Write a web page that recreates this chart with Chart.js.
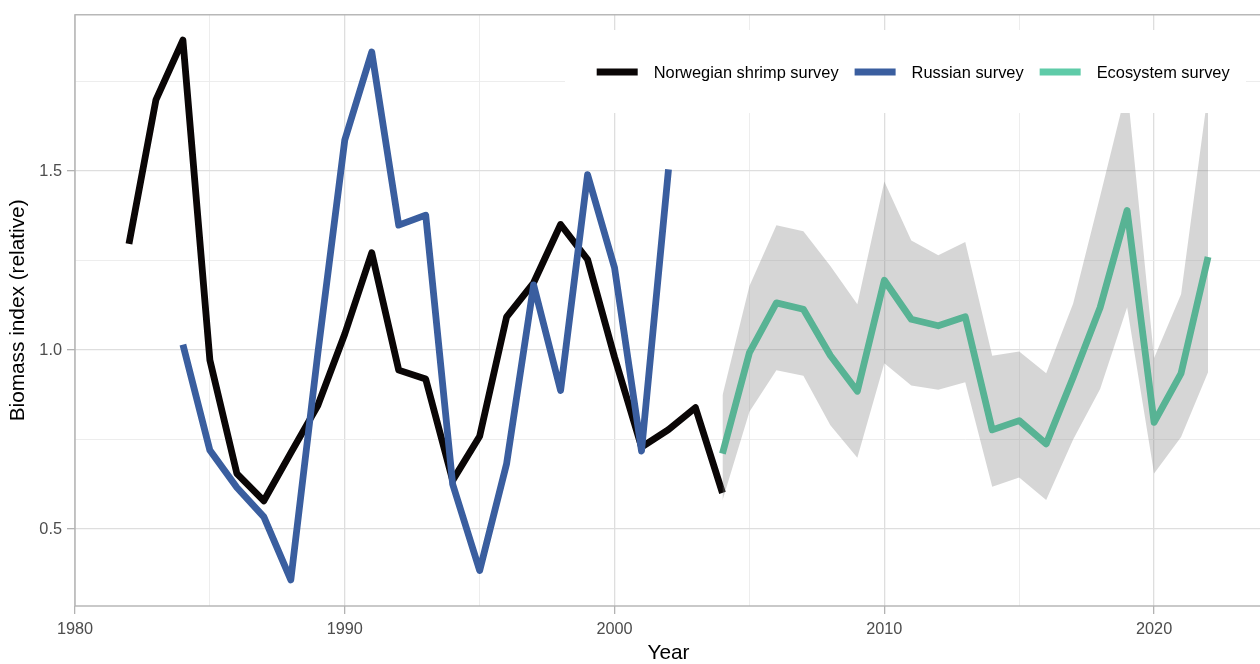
<!DOCTYPE html>
<html>
<head>
<meta charset="utf-8">
<script src="https://cdn.jsdelivr.net/npm/chart.js@4/dist/chart.umd.min.js"></script>
<style>
html,body{margin:0;padding:0;overflow:hidden;background:#ffffff;}
canvas{display:block;}
</style>
</head>
<body>
<canvas id="c" width="1262" height="664"></canvas>
<script>
// ---------- data ----------
const norwegianYears = [1982,1983,1984,1985,1986,1987,1988,1989,1990,1991,1992,1993,1994,1995,1996,1997,1998,1999,2000,2001,2002,2003,2004];
const norwegianValues = [1.297,1.699,1.866,0.972,0.655,0.579,0.713,0.845,1.045,1.272,0.944,0.919,0.636,0.759,1.093,1.188,1.351,1.253,0.980,0.729,0.778,0.839,0.601];

const russianYears = [1984,1985,1986,1987,1988,1989,1990,1991,1992,1993,1994,1995,1996,1997,1998,1999,2000,2001,2002];
const russianValues = [1.015,0.720,0.616,0.534,0.358,0.990,1.587,1.833,1.349,1.377,0.625,0.384,0.683,1.182,0.887,1.490,1.230,0.718,1.505];

const ecoYears = [2004,2005,2006,2007,2008,2009,2010,2011,2012,2013,2014,2015,2016,2017,2018,2019,2020,2021,2022];
const ecoValues = [0.711,0.993,1.132,1.114,0.985,0.885,1.195,1.086,1.068,1.093,0.777,0.803,0.738,0.924,1.119,1.390,0.798,0.935,1.260];
const ecoLower  = [0.580,0.828,0.944,0.928,0.790,0.699,0.963,0.901,0.889,0.910,0.618,0.644,0.581,0.750,0.891,1.120,0.655,0.757,0.938];
const ecoUpper  = [0.873,1.179,1.349,1.332,1.235,1.128,1.471,1.306,1.265,1.302,0.984,0.996,0.935,1.130,1.430,1.735,0.978,1.156,1.720];

const seriesNames = ["Norwegian shrimp survey","Russian survey","Ecosystem survey"];

const xTickValues = [1980,1985,1990,1995,2000,2005,2010,2015,2020];
const xTickLabels = ["1980","","1990","","2000","","2010","","2020"];
const yTickValues = [0.5,0.75,1.0,1.25,1.5,1.75];
const yTickLabels = ["0.5","","1.0","","1.5",""];

// ---------- styling ----------
const FONT = '"Liberation Sans", Arial, Helvetica, sans-serif';
const COL_BLACK = '#0a0606';
const COL_BLUE = '#3a5e9f';
const COL_GREEN = '#58b394';
const COL_GREEN_KEY = '#5fcba8';
const legendKeyColors = [COL_BLACK, COL_BLUE, COL_GREEN_KEY];

const pts = (xs, ys) => xs.map((x, i) => ({x: x, y: ys[i]}));

const lineBase = {
  pointRadius: 0, pointHoverRadius: 0, tension: 0,
  borderWidth: 6.8, borderJoinStyle: 'round', borderCapStyle: 'butt', fill: false
};

const isMajorX = v => xTickLabels[xTickValues.indexOf(v)] !== "";
const isMajorY = v => {
  const i = yTickValues.findIndex(t => Math.abs(t - v) < 1e-9);
  return i >= 0 && yTickLabels[i] !== "";
};

const overlayPlugin = {
  id: 'overlay',
  afterDatasetsDraw(chart) {
    const ctx = chart.ctx;
    const a = chart.chartArea;
    ctx.save();
    // panel border
    ctx.strokeStyle = '#b3b3b3';
    ctx.lineWidth = 1.4;
    ctx.strokeRect(a.left, a.top, a.right - a.left + 10, a.bottom - a.top);
    // legend box inside panel
    const box = {x0: 565, y0: 30, x1: 1246, y1: 113};
    ctx.fillStyle = '#ffffff';
    ctx.fillRect(box.x0, box.y0, box.x1 - box.x0, box.y1 - box.y0);
    const cy = 72, keyW = 41, gap = 16;
    let x = 596.7;
    ctx.font = '16.4px ' + FONT;
    ctx.textBaseline = 'middle';
    ctx.textAlign = 'left';
    seriesNames.forEach((name, i) => {
      ctx.strokeStyle = legendKeyColors[i];
      ctx.lineWidth = 7;
      ctx.lineCap = 'butt';
      ctx.beginPath();
      ctx.moveTo(x, cy);
      ctx.lineTo(x + keyW, cy);
      ctx.stroke();
      x += keyW + gap;
      ctx.fillStyle = '#000000';
      ctx.fillText(name, x, cy + 1);
      x += ctx.measureText(name).width + gap;
    });
    ctx.restore();
  }
};

new Chart(document.getElementById('c'), {
  type: 'line',
  data: {
    datasets: [
      Object.assign({}, lineBase, {label: seriesNames[0], data: pts(norwegianYears, norwegianValues), borderColor: COL_BLACK, order: 5}),
      {label: 'lower', data: pts(ecoYears, ecoLower), borderWidth: 0, pointRadius: 0, borderColor: 'rgba(0,0,0,0)', fill: false, order: 3, tension: 0},
      {label: 'upper', data: pts(ecoYears, ecoUpper), borderWidth: 0, pointRadius: 0, borderColor: 'rgba(0,0,0,0)', fill: '-1', backgroundColor: 'rgba(127,127,127,0.32)', order: 3, tension: 0},
      Object.assign({}, lineBase, {label: seriesNames[1], data: pts(russianYears, russianValues), borderColor: COL_BLUE, order: 2}),
      Object.assign({}, lineBase, {label: seriesNames[2], data: pts(ecoYears, ecoValues), borderColor: COL_GREEN, order: 0})
    ]
  },
  options: {
    responsive: false,
    animation: false,
    devicePixelRatio: 1,
    layout: {padding: {top: 13, left: 0, right: 0, bottom: 0}},
    plugins: {legend: {display: false}, tooltip: {enabled: false}},
    events: [],
    scales: {
      x: {
        type: 'linear', min: 1980, max: 2024,
        afterBuildTicks: s => { s.ticks = xTickValues.map(v => ({value: v})); },
        afterFit: s => { s.height = 58; },
        border: {display: false},
        grid: {
          color: c => isMajorX(c.tick.value) ? '#dedede' : '#ebebeb',
          lineWidth: c => isMajorX(c.tick.value) ? 1.3 : 0.9,
          tickColor: c => isMajorX(c.tick.value) ? '#b3b3b3' : 'rgba(0,0,0,0)',
          tickLength: 8, tickWidth: 1.3
        },
        ticks: {
          autoSkip: false, maxRotation: 0, minRotation: 0, padding: 6,
          color: '#4d4d4d', font: {size: 16.3, family: FONT},
          callback: (v, i) => xTickLabels[i]
        },
        title: {display: true, text: 'Year', color: '#000000', font: {size: 20.8, family: FONT, lineHeight: 1}, padding: {top: 0, bottom: 0}}
      },
      y: {
        type: 'linear', min: 0.285, max: 1.9368,
        afterBuildTicks: s => { s.ticks = yTickValues.map(v => ({value: v})); },
        afterFit: s => { s.width = 75; },
        border: {display: false},
        grid: {
          color: c => isMajorY(c.tick.value) ? '#dedede' : '#ebebeb',
          lineWidth: c => isMajorY(c.tick.value) ? 1.3 : 0.9,
          tickColor: c => isMajorY(c.tick.value) ? '#b3b3b3' : 'rgba(0,0,0,0)',
          tickLength: 8, tickWidth: 1.3
        },
        ticks: {
          autoSkip: false, padding: 5,
          color: '#4d4d4d', font: {size: 16.3, family: FONT},
          callback: (v, i) => yTickLabels[i]
        },
        title: {display: true, text: 'Biomass index (relative)', color: '#000000', font: {size: 20.8, family: FONT, lineHeight: 1}, padding: {top: 8, bottom: 0}}
      }
    }
  },
  plugins: [overlayPlugin]
});
</script>
</body>
</html>
